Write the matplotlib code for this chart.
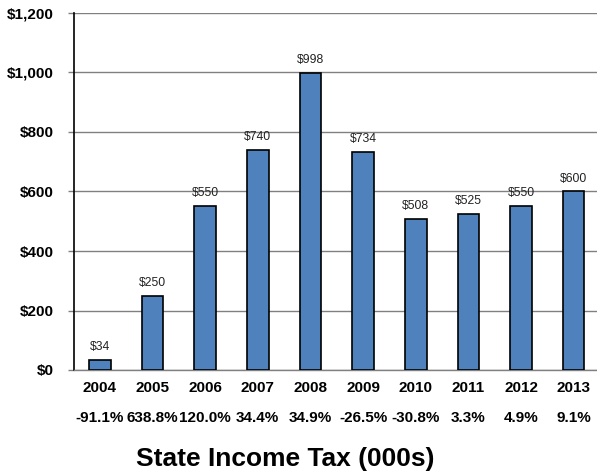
import matplotlib
matplotlib.use("Agg")
import matplotlib.pyplot as plt
from matplotlib.ticker import FuncFormatter
import matplotlib.transforms as mtransforms

plt.rcParams['font.family'] = ['Liberation Sans', 'DejaVu Sans']

years = ["2004", "2005", "2006", "2007", "2008", "2009", "2010", "2011", "2012", "2013"]
values = [34, 250, 550, 740, 998, 734, 508, 525, 550, 600]
changes = ["-91.1%", "638.8%", "120.0%", "34.4%", "34.9%", "-26.5%", "-30.8%", "3.3%", "4.9%", "9.1%"]
title = "State Income Tax (000s)"

fig = plt.figure(figsize=(5.97, 4.74), dpi=100)
ax = fig.add_axes([73.5 / 597, 1 - 370 / 474, (600 - 73.5) / 597, (370 - 13) / 474])

x = list(range(len(years)))
ax.bar(x, values, width=0.41, color="#4F81BD", edgecolor="black", linewidth=1.2, zorder=3)

for xi, v in zip(x, values):
    ax.annotate(f"${v:,}", (xi, v), xytext=(0, 5), textcoords="offset points",
                ha="center", va="bottom", fontsize=8.7, color="#222222")

ax.set_xlim(-0.5, len(years) - 0.5)
ax.set_ylim(0, 1200)
ax.set_yticks(range(0, 1201, 200))
ax.yaxis.set_major_formatter(FuncFormatter(lambda v, p: f"${int(v):,}"))
ax.grid(axis="y", color="#808080", linewidth=1, zorder=0)
ax.set_axisbelow(True)

for s in ["top", "right"]:
    ax.spines[s].set_visible(False)
ax.spines["left"].set_color("black")
ax.spines["left"].set_linewidth(1.2)
ax.spines["bottom"].set_color("#808080")
ax.spines["bottom"].set_linewidth(1)

ax.tick_params(axis="y", length=4, width=1, color="#808080", labelsize=11, pad=10)
ax.tick_params(axis="x", length=0, labelsize=11, pad=8)
ax.set_xticks(x)
ax.set_xticklabels(years, fontweight="bold")
for lbl in ax.get_yticklabels():
    lbl.set_fontweight("bold")

trans = mtransforms.blended_transform_factory(ax.transData, fig.transFigure)
for xi, c in zip(x, changes):
    ax.text(xi, 1 - 418 / 474, c, transform=trans, ha="center", va="center",
            fontsize=11, fontweight="bold")

fig.text(285.5 / 597, 1 - 459 / 474, title, ha="center", va="center",
         fontsize=19, fontweight="bold")

fig.savefig("out.png", dpi=100)
